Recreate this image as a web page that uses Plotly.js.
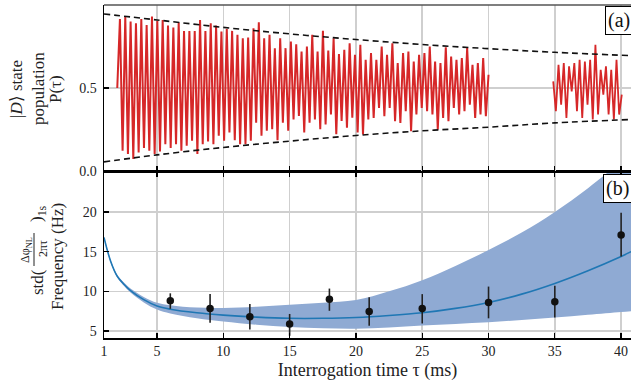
<!DOCTYPE html>
<html>
<head>
<meta charset="utf-8">
<script src="https://cdn.plot.ly/plotly-3.0.1.min.js"></script>
<style>html,body{margin:0;padding:0;background:#fff;}#chart{width:631px;height:389px;}</style>
</head>
<body>
<div id="chart"></div>
<script>
// ---------- Panel (a): |D> state population ----------
// segment 1: sampled from 2.0 ms to 30.0 ms (uniform sampling grid)
const seg1Start = 2.0, seg1End = 30.0;
const seg1Values = [0.5,
0.916,0.122,0.93,0.102,0.90,0.072,0.89,0.112,0.916,0.138,0.88,0.122,0.93,0.102,0.904,0.118,0.91,0.162,0.876,0.138,0.864,0.162,0.896,0.122,0.844,0.152,0.844,0.182,0.844,0.102,0.91,0.162,0.844,0.178,0.89,0.162,0.876,0.212,0.84,0.182,0.856,0.232,0.844,0.186,0.82,0.162,
0.80,0.162,0.804,0.182,0.86,0.291,0.896,0.212,0.80,0.242,0.82,0.251,0.74,0.186,0.80,0.291,0.74,0.242,0.78,0.311,0.764,0.331,0.72,0.232,0.75,0.291,0.82,0.311,0.72,0.251,0.844,0.281,0.725,0.341,0.80,0.222,0.705,0.301,0.73,0.261,0.77,0.321,0.70,0.232,0.76,
0.22,0.67,0.31,0.71,0.32,0.67,0.38,0.75,0.33,0.70,0.38,0.77,0.30,0.65,0.29,0.71,0.36,0.72,0.24,0.66,0.34,0.70,0.38,0.71,0.36,0.75,0.34,0.66,0.25,0.65,0.32,0.745,0.30,0.69,0.38,0.67,0.34,0.68,0.36,0.74,0.40,0.64,0.32,0.65,0.34,0.68,0.33,0.58];
// segment 2: sampled from 34.88 ms to 40.05 ms
const seg2Start = 34.88, seg2End = 40.05;
const seg2Values = [0.54,0.36,0.64,0.40,0.65,0.32,0.63,0.48,0.65,0.36,0.67,0.32,0.66,0.40,0.67,0.31,0.76,0.34,0.61,0.46,0.63,0.34,0.61,0.31,0.67,0.34,0.46];

// dashed envelope
const envT     = [1, 5, 10, 15, 20, 25, 30, 35, 40.75];
const envUpper = [0.946, 0.91, 0.865, 0.826, 0.792, 0.762, 0.737, 0.715, 0.695];
const envLower = [0.055, 0.097, 0.142, 0.18, 0.214, 0.242, 0.264, 0.29, 0.31];

// ---------- Panel (b): frequency ----------
const fitT   = [1, 1.5, 2, 2.5, 3, 4, 5, 6, 8, 10, 12.5, 15, 17.5, 20, 22.5, 25, 27.5, 30, 32.5, 35, 37.5, 40, 40.75];
const fitV   = [16.8, 13.8, 11.9, 10.9, 10.1, 8.95, 8.15, 7.75, 7.3, 7.0, 6.75, 6.6, 6.6, 6.7, 6.95, 7.3, 7.85, 8.6, 9.65, 11.0, 12.6, 14.4, 15.0];
const bandLo = [16.7, 13.65, 11.75, 10.7, 9.85, 8.6, 7.7, 7.2, 6.6, 6.2, 5.8, 5.5, 5.35, 5.3, 5.45, 5.7, 5.9, 6.1, 6.4, 6.7, 7.05, 7.4, 7.5];
const bandHi = [16.9, 13.95, 12.05, 11.1, 10.35, 9.3, 8.55, 8.25, 7.95, 7.9, 8.05, 8.3, 8.55, 8.9, 10.0, 11.4, 13.2, 15.2, 17.4, 20.0, 23.0, 26.4, 27.5];

const ptsT     = [6, 9, 12, 15, 18, 21, 25, 30, 35, 40];
const ptsV     = [8.8, 7.85, 6.8, 5.9, 9.0, 7.45, 7.85, 8.6, 8.7, 17.1];
const ptsPlus  = [0.95, 1.8, 1.6, 1.25, 1.35, 1.8, 1.8, 2.0, 2.0, 2.8];
const ptsMinus = [1.0, 1.8, 1.6, 1.5, 1.45, 1.8, 1.9, 2.0, 2.0, 2.7];

// ---------- axes ticks ----------
const xTicks = [1, 5, 10, 15, 20, 25, 30, 35, 40];
const yTicksA = [0, 0.5, 1];
const yTickTextA = ['0.0', '0.5', '1.0'];
const yTicksB = [5, 10, 15, 20];

function grid(start, end, n) {
  const out = [];
  for (let i = 0; i < n; i++) out.push(start + i * (end - start) / (n - 1));
  return out;
}
const seg1T = grid(seg1Start, seg1End, seg1Values.length);
const seg2T = grid(seg2Start, seg2End, seg2Values.length);

const RED = '#d62728';
const BLUE = '#1f77b4';
const BAND = 'rgb(143,170,211)';

const traces = [
  {x: seg1T, y: seg1Values, xaxis: 'x2', yaxis: 'y', mode: 'lines', line: {color: RED, width: 2}, hoverinfo: 'skip'},
  {x: seg2T, y: seg2Values, xaxis: 'x2', yaxis: 'y', mode: 'lines', line: {color: RED, width: 1.8}, hoverinfo: 'skip'},
  {x: envT, y: envUpper, xaxis: 'x2', yaxis: 'y', mode: 'lines', line: {color: '#111', width: 1.6, dash: '6px,4px', shape: 'spline'}},
  {x: envT, y: envLower, xaxis: 'x2', yaxis: 'y', mode: 'lines', line: {color: '#111', width: 1.6, dash: '6px,4px', shape: 'spline'}},
  {x: fitT, y: bandLo, xaxis: 'x', yaxis: 'y2', mode: 'lines', line: {width: 0, shape: 'spline'}},
  {x: fitT, y: bandHi, xaxis: 'x', yaxis: 'y2', mode: 'lines', line: {width: 0, shape: 'spline'}, fill: 'tonexty', fillcolor: BAND},
  {x: fitT, y: fitV, xaxis: 'x', yaxis: 'y2', mode: 'lines', line: {color: BLUE, width: 1.6, shape: 'spline'}},
  {x: ptsT, y: ptsV, xaxis: 'x', yaxis: 'y2', mode: 'markers',
   marker: {color: '#111', size: 7.5},
   error_y: {type: 'data', symmetric: false, array: ptsPlus, arrayminus: ptsMinus, thickness: 1.6, width: 0, color: '#222'}}
];

const FONT = "'Liberation Serif', 'Times New Roman', serif";
const axisCommon = {
  ticks: 'inside', ticklen: 5, tickwidth: 1.3, tickcolor: '#000',
  showline: true, linecolor: '#000', linewidth: 1.5,
  showgrid: true, gridcolor: '#cfcfcf', gridwidth: 1.5, zeroline: false,
  tickfont: {family: FONT, size: 14, color: '#222'}
};

function px2x(px) { return (px - 104) / 527; }
function py2y(py) { return (338 - py) / 333; }

const titleFont = {family: FONT, size: 17, color: '#222'};
const annotations = [
  {text: '|<i>D</i>⟩ state', x: px2x(17), y: py2y(89), textangle: -90},
  {text: 'population', x: px2x(39), y: py2y(89), textangle: -90},
  {text: 'P(τ)', x: px2x(56), y: py2y(89), textangle: -90},
  {text: 'std(', x: px2x(37), y: py2y(282), textangle: -90},
  {text: 'Δφ<sub>NL</sub>', x: px2x(26), y: py2y(250), textangle: -90, font: {family: FONT, size: 12, color: '#222'}},
  {text: '2πτ', x: px2x(43), y: py2y(249), textangle: -90, font: {family: FONT, size: 12, color: '#222'}},
  {text: ')<sub>1s</sub>', x: px2x(38), y: py2y(214), textangle: -90},
  {text: 'Frequency (Hz)', x: px2x(57), y: py2y(257), textangle: -90},
].map(a => Object.assign({xref: 'paper', yref: 'paper', xanchor: 'center', yanchor: 'middle', showarrow: false, font: titleFont}, a));

annotations.push(
  {text: '(a)', xref: 'paper', yref: 'paper', x: px2x(605), y: py2y(6), xanchor: 'left', yanchor: 'top', showarrow: false,
   font: {family: FONT, size: 20, color: '#111'}, bgcolor: '#fff', bordercolor: '#000', borderwidth: 1, borderpad: 2},
  {text: '(b)', xref: 'paper', yref: 'paper', x: px2x(603), y: py2y(174), xanchor: 'left', yanchor: 'top', showarrow: false,
   font: {family: FONT, size: 20, color: '#111'}, bgcolor: '#fff', bordercolor: '#000', borderwidth: 1, borderpad: 2}
);

const layout = {
  width: 631, height: 389,
  margin: {l: 104, r: 0, t: 5, b: 51},
  paper_bgcolor: '#fff', plot_bgcolor: '#fff',
  font: {family: FONT, size: 14, color: '#222'},
  showlegend: false,
  xaxis: Object.assign({}, axisCommon, {
    domain: [0, 1], anchor: 'y2', range: [1, 40.745], tickvals: xTicks, mirror: 'ticks',
    title: {text: 'Interrogation time τ (ms)', font: {family: FONT, size: 18, color: '#222'}, standoff: 5}
  }),
  xaxis2: Object.assign({}, axisCommon, {
    domain: [0, 1], anchor: 'y', matches: 'x', tickvals: xTicks, showticklabels: false
  }),
  yaxis: Object.assign({}, axisCommon, {
    domain: [0.5015, 1], anchor: 'x2', range: [0, 1], tickvals: yTicksA, ticktext: yTickTextA, ticklabelstandoff: 3
  }),
  yaxis2: Object.assign({}, axisCommon, {
    domain: [0, 0.4985], anchor: 'x', range: [4.12, 25.04], tickvals: yTicksB, ticklabelstandoff: 3
  }),
  shapes: [
    {type: 'line', xref: 'paper', yref: 'paper', x0: 0, x1: 1, y0: 1, y1: 1, line: {color: '#555', width: 1.5}},
    {type: 'line', xref: 'paper', yref: 'paper', x0: px2x(34), x1: px2x(34), y0: py2y(266), y1: py2y(233), line: {color: '#222', width: 1}}
  ],
  annotations: annotations
};

Plotly.newPlot('chart', traces, layout, {displayModeBar: false, staticPlot: true});
</script>
</body>
</html>
